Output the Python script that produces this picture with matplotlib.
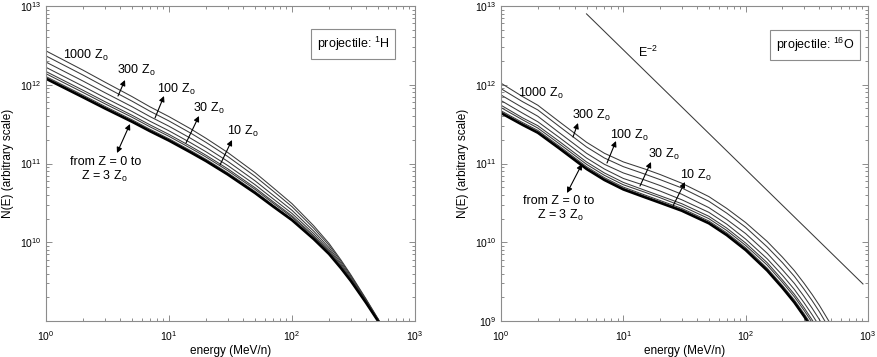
import numpy as np
import matplotlib
matplotlib.use("Agg")
import matplotlib.pyplot as plt
from matplotlib.ticker import LogLocator, FuncFormatter, NullFormatter

plt.rcParams['font.family'] = ['Liberation Sans', 'DejaVu Sans']
plt.rcParams['mathtext.default'] = 'regular'

# ---------------- data (log10 N(E)) ----------------
energy_H = [1, 2, 3, 5, 7, 10, 15, 20, 30, 50, 70, 100, 150, 200, 250, 300, 400, 500, 600]
H_1000 = [12.43, 12.185, 12.035, 11.85, 11.72, 11.595, 11.44, 11.32, 11.14, 10.885, 10.695, 10.49, 10.21, 9.985, 9.775, 9.59, 9.28, 9.03, 8.82]
H_300 = [12.366, 12.123, 11.975, 11.792, 11.664, 11.54, 11.386, 11.268, 11.09, 10.838, 10.652, 10.452, 10.179, 9.961, 9.756, 9.576, 9.271, 9.025, 8.816]
H_100 = [12.288, 12.047, 11.901, 11.722, 11.596, 11.473, 11.32, 11.204, 11.028, 10.781, 10.599, 10.406, 10.142, 9.931, 9.733, 9.558, 9.26, 9.018, 8.812]
H_30 = [12.221, 11.981, 11.837, 11.661, 11.537, 11.415, 11.263, 11.149, 10.975, 10.732, 10.553, 10.366, 10.11, 9.905, 9.713, 9.543, 9.251, 9.012, 8.808]
H_10 = [12.168, 11.93, 11.787, 11.613, 11.491, 11.369, 11.218, 11.105, 10.933, 10.693, 10.517, 10.335, 10.084, 9.885, 9.697, 9.531, 9.243, 9.008, 8.805]
H_3 = [12.14, 11.902, 11.76, 11.588, 11.466, 11.345, 11.194, 11.082, 10.91, 10.672, 10.498, 10.318, 10.071, 9.874, 9.689, 9.524, 9.239, 9.005, 8.804]
H_1 = [12.104, 11.868, 11.727, 11.556, 11.435, 11.314, 11.164, 11.053, 10.882, 10.646, 10.474, 10.297, 10.054, 9.861, 9.678, 9.516, 9.234, 9.002, 8.802]
H_03 = [12.09, 11.854, 11.713, 11.543, 11.422, 11.302, 11.152, 11.042, 10.871, 10.635, 10.465, 10.288, 10.047, 9.855, 9.674, 9.513, 9.232, 9.001, 8.801]
H_0 = [12.076, 11.84, 11.70, 11.53, 11.41, 11.29, 11.14, 11.03, 10.86, 10.625, 10.455, 10.28, 10.04, 9.85, 9.67, 9.51, 9.23, 9.00, 8.80]

energy_O = [1, 1.5, 2, 3, 5, 7, 10, 15, 20, 30, 50, 70, 100, 150, 200, 250, 300, 350, 400, 500]
O_1000 = [12.02, 11.85, 11.74, 11.53, 11.27, 11.13, 11.02, 10.93, 10.86, 10.75, 10.58, 10.43, 10.25, 10.01, 9.81, 9.64, 9.48, 9.335, 9.20, 8.95]
O_300 = [11.95, 11.785, 11.68, 11.47, 11.21, 11.07, 10.96, 10.865, 10.795, 10.69, 10.52, 10.37, 10.19, 9.94, 9.74, 9.567, 9.404, 9.257, 9.119, 8.864]
O_100 = [11.87, 11.71, 11.60, 11.39, 11.13, 10.99, 10.88, 10.79, 10.72, 10.61, 10.44, 10.29, 10.11, 9.86, 9.65, 9.478, 9.312, 9.161, 9.02, 8.758]
O_30 = [11.80, 11.64, 11.53, 11.33, 11.07, 10.93, 10.81, 10.72, 10.65, 10.54, 10.38, 10.23, 10.04, 9.79, 9.58, 9.401, 9.232, 9.078, 8.935, 8.667]
O_10 = [11.74, 11.58, 11.48, 11.28, 11.02, 10.88, 10.76, 10.66, 10.59, 10.49, 10.33, 10.18, 9.99, 9.74, 9.52, 9.34, 9.169, 9.013, 8.867, 8.595]
O_3 = [11.71, 11.555, 11.45, 11.25, 10.99, 10.85, 10.73, 10.635, 10.565, 10.46, 10.30, 10.15, 9.96, 9.71, 9.49, 9.308, 9.136, 8.978, 8.831, 8.556]
O_1 = [11.67, 11.52, 11.42, 11.22, 10.96, 10.82, 10.70, 10.60, 10.53, 10.43, 10.27, 10.12, 9.93, 9.67, 9.45, 9.267, 9.094, 8.935, 8.786, 8.508]
O_03 = [11.655, 11.505, 11.405, 11.205, 10.945, 10.805, 10.685, 10.585, 10.515, 10.415, 10.255, 10.105, 9.915, 9.655, 9.435, 9.251, 9.077, 8.917, 8.768, 8.489]
O_0 = [11.64, 11.49, 11.39, 11.19, 10.93, 10.79, 10.67, 10.57, 10.50, 10.40, 10.24, 10.09, 9.90, 9.64, 9.42, 9.235, 9.06, 8.90, 8.75, 8.47]

powerlaw_E = [5.0, 910.0]
powerlaw_N = [12.90, 9.47]

H_upper = [H_1000, H_300, H_100, H_30, H_10, H_3, H_1, H_03]
O_upper = [O_1000, O_300, O_100, O_30, O_10, O_3, O_1, O_03]

# ---------------- figure ----------------
W, Hh = 878, 357
fig = plt.figure(figsize=(W / 100, Hh / 100), dpi=100)

def px_axes(x0, x1, y0, y1):
    return fig.add_axes([x0 / W, 1 - y1 / Hh, (x1 - x0) / W, (y1 - y0) / Hh])

axL = px_axes(46, 415, 6, 321)
axR = px_axes(501, 868, 6, 321)

GRAY = '#8c8c8c'
LINE = '#3a3a3a'

def sci_fmt(hide_min):
    def f(v, pos):
        e = int(round(np.log10(v)))
        if hide_min and e == 9:
            return ''
        return r'$10^{%d}$' % e
    return FuncFormatter(f)

for ax, hide in ((axL, True), (axR, False)):
    ax.set_xscale('log')
    ax.set_yscale('log')
    ax.set_xlim(1, 1000)
    ax.set_ylim(1e9, 1e13)
    for s in ax.spines.values():
        s.set_color(GRAY)
        s.set_linewidth(0.8)
    ax.xaxis.set_major_locator(LogLocator(base=10, numticks=10))
    ax.yaxis.set_major_locator(LogLocator(base=10, numticks=10))
    ax.xaxis.set_minor_locator(LogLocator(base=10, subs=np.arange(2, 10), numticks=20))
    ax.yaxis.set_minor_locator(LogLocator(base=10, subs=np.arange(2, 10), numticks=20))
    ax.xaxis.set_major_formatter(sci_fmt(False))
    ax.yaxis.set_major_formatter(sci_fmt(hide))
    ax.xaxis.set_minor_formatter(NullFormatter())
    ax.yaxis.set_minor_formatter(NullFormatter())
    ax.tick_params(which='both', direction='in', top=True, right=True,
                   color=GRAY, labelsize=7.5, labelcolor='black', width=0.7)
    ax.tick_params(which='major', length=4)
    ax.tick_params(which='minor', length=2.5)
    ax.tick_params(axis='x', pad=6)
    ax.set_xlabel('energy (MeV/n)', fontsize=8.5, labelpad=1)
    ax.set_ylabel('N(E) (arbitrary scale)', fontsize=8.5, labelpad=4)

def plot_family(ax, E, upper, base):
    for s in upper:
        ax.plot(E, [10 ** v for v in s], color=LINE, lw=0.75)
    ax.plot(E, [10 ** v for v in base], color='black', lw=1.8)

plot_family(axL, energy_H, H_upper, H_0)
plot_family(axR, energy_O, O_upper, O_0)
axR.plot(powerlaw_E, [10 ** v for v in powerlaw_N], color=LINE, lw=0.75)

# ---------------- annotations ----------------
def lbl(xpx, ypx, txt, ha='left', size=9):
    fig.text(xpx / W, 1 - ypx / Hh, txt, ha=ha, va='center', fontsize=size)

def arr(x0, y0, x1, y1, style='-|>'):
    fig.add_artist(matplotlib.patches.FancyArrowPatch(
        (x0 / W, 1 - y0 / Hh), (x1 / W, 1 - y1 / Hh), transform=fig.transFigure,
        arrowstyle=style, mutation_scale=8, color='black', lw=0.8,
        shrinkA=0, shrinkB=0))

Zo = r' Z$_{o}$'
# left panel
lbl(63, 55, '1000' + Zo)
lbl(117, 70, '300' + Zo)
lbl(157, 89, '100' + Zo)
lbl(193, 108, '30' + Zo)
lbl(227, 131, '10' + Zo)
lbl(106, 162, 'from Z = 0 to', ha='center')
lbl(104, 176, 'Z = 3' + Zo, ha='center')
arr(118, 96, 125, 80)
arr(155, 118, 164, 96)
arr(186, 143, 199, 116)
arr(220, 165, 232, 140)
arr(130, 124, 117, 153, style='<|-|>')

# right panel
lbl(518, 93, '1000' + Zo)
lbl(572, 115, '300' + Zo)
lbl(610, 135, '100' + Zo)
lbl(648, 154, '30' + Zo)
lbl(680, 175, '10' + Zo)
lbl(559, 201, 'from Z = 0 to', ha='center')
lbl(560, 215, 'Z = 3' + Zo, ha='center')
lbl(638, 52, r'E$^{-2}$')
arr(573, 137, 578, 123)
arr(607, 163, 616, 141)
arr(640, 186, 651, 162)
arr(673, 206, 685, 182)
arr(582, 164, 567, 193, style='<|-|>')

box = dict(boxstyle='square,pad=0.5', fc='white', ec=GRAY, lw=0.8)
fig.text(353 / W, 1 - 44 / Hh, r'projectile: $^{1}$H', ha='center', va='center',
         fontsize=9, bbox=box)
fig.text(815 / W, 1 - 45 / Hh, r'projectile: $^{16}$O', ha='center', va='center',
         fontsize=9, bbox=box)

fig.savefig('out.png', dpi=100)
